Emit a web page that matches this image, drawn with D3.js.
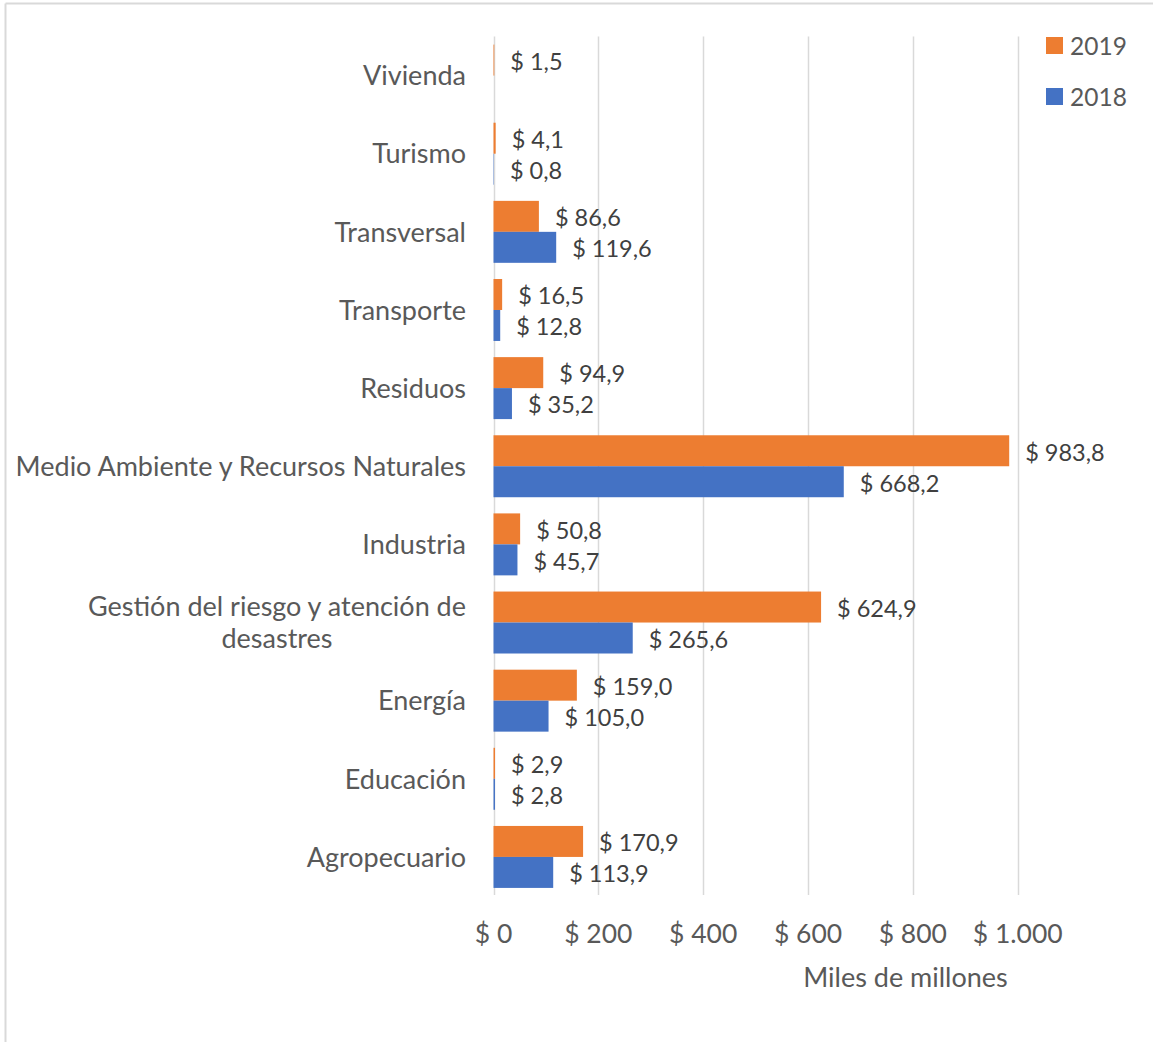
<!DOCTYPE html>
<html><head><meta charset="utf-8">
<script src="https://cdn.jsdelivr.net/npm/d3@7"></script>
<style>html,body{margin:0;padding:0;background:#fff;}svg{display:block;}</style>
</head><body>
<svg id="chart" width="1153" height="1042"></svg>
<script>
const categories = ["Vivienda","Turismo","Transversal","Transporte","Residuos","Medio Ambiente y Recursos Naturales","Industria","Gestión del riesgo y atención de desastres","Energía","Educación","Agropecuario"];
const values2019 = [1.5,4.1,86.6,16.5,94.9,983.8,50.8,624.9,159.0,2.9,170.9];
const values2018 = [null,0.8,119.6,12.8,35.2,668.2,45.7,265.6,105.0,2.8,113.9];
const seriesNames = ["2019","2018"];
const xTicks = [0,200,400,600,800,1000];
const axisTitle = "Miles de millones";

const colors = {"2019":"#ED7D31","2018":"#4472C4"};
const font = "Lato, 'Open Sans', sans-serif";
const loc = d3.formatLocale({decimal:",",thousands:".",grouping:[3],currency:["$ ",""]});
const fmtTick = loc.format("$,.0f");
const fmtVal = loc.format("$,.1f");

const svg = d3.select("#chart");
// border (top and left visible)
svg.append("line").attr("x1",5.5).attr("x2",1153).attr("y1",3.5).attr("y2",3.5).attr("stroke","#d9d9d9").attr("stroke-width",2);
svg.append("line").attr("x1",5.5).attr("x2",5.5).attr("y1",3.5).attr("y2",1042).attr("stroke","#d9d9d9").attr("stroke-width",2);

const x = d3.scaleLinear().domain([0,1000]).range([493.5,1017.7]);
const y = d3.scaleBand().domain(categories).range([36.5,896]).paddingInner(0.207).paddingOuter(0.1035);
const ys = d3.scaleBand().domain(seriesNames).range([0,y.bandwidth()]);

// gridlines
svg.append("g").selectAll("line").data(xTicks).join("line")
  .attr("x1",d=>Math.round(x(d))+0.5).attr("x2",d=>Math.round(x(d))+0.5)
  .attr("y1",36.5).attr("y2",895)
  .attr("stroke","#d9d9d9").attr("stroke-width",1.5);

// tick labels
svg.append("g").selectAll("text").data(xTicks).join("text")
  .attr("x",d=>x(d)).attr("y",943)
  .attr("text-anchor","middle").attr("font-family",font).attr("font-size",26.5).attr("fill","#595959")
  .text(d=>fmtTick(d));

svg.append("text").attr("x",905.5).attr("y",987).attr("text-anchor","middle")
  .attr("font-family",font).attr("font-size",27).attr("fill","#595959").text(axisTitle);

const rows = categories.map((c,i)=>({cat:c, vals:[{s:"2019",v:values2019[i]},{s:"2018",v:values2018[i]}]}));

const g = svg.append("g").selectAll("g").data(rows).join("g")
  .attr("transform",d=>`translate(0,${y(d.cat)})`);

g.selectAll("rect").data(d=>d.vals.filter(v=>v.v!=null)).join("rect")
  .attr("x",x(0)).attr("y",d=>ys(d.s)).attr("height",ys.bandwidth())
  .attr("width",d=>x(d.v)-x(0)).attr("fill",d=>colors[d.s]);

g.selectAll("text.val").data(d=>d.vals.filter(v=>v.v!=null)).join("text")
  .attr("class","val")
  .attr("x",d=>x(d.v)+16).attr("y",d=>ys(d.s)+ys.bandwidth()/2)
  .attr("dy","0.42em").attr("font-family",font).attr("font-size",23.5).attr("fill","#404040")
  .text(d=>fmtVal(d.v));

// category labels
const labelX = 466;
const catSize = 27;
svg.append("g").selectAll("text").data(categories).join("text")
  .attr("font-family",font).attr("font-size",catSize).attr("fill","#595959")
  .each(function(d){
    const t = d3.select(this);
    const cy = y(d)+y.bandwidth()/2;
    if (d.length > 36) {
      const words = d.split(" ");
      const l1 = words.slice(0,-1).join(" "), l2 = words[words.length-1];
      t.attr("text-anchor","end").attr("x",labelX).attr("y",cy-16).attr("dy","0.36em").text(l1);
      const w = this.getComputedTextLength();
      svg.append("text").attr("font-family",font).attr("font-size",catSize).attr("fill","#595959")
        .attr("text-anchor","middle").attr("x",labelX-w/2).attr("y",cy+16).attr("dy","0.36em").text(l2);
    } else {
      t.attr("text-anchor","end").attr("x",labelX).attr("y",cy).attr("dy","0.36em").text(d);
    }
  });

// legend
const leg = svg.append("g").selectAll("g").data(seriesNames).join("g")
  .attr("transform",(d,i)=>`translate(1046,${37+i*51})`);
leg.append("rect").attr("width",17).attr("height",17).attr("fill",d=>colors[d]);
leg.append("text").attr("x",24).attr("y",18).attr("font-family",font).attr("font-size",24.5).attr("fill","#595959").text(d=>d);
</script>
</body></html>
